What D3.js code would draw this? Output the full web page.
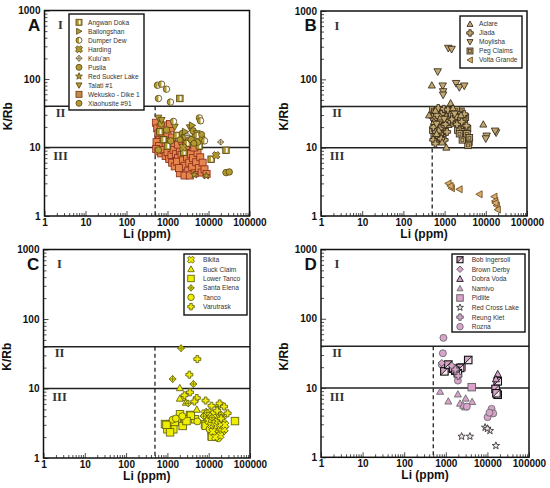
<!DOCTYPE html>
<html><head><meta charset="utf-8">
<script src="https://cdn.jsdelivr.net/npm/d3@7"></script>
<style>body{margin:0;background:#fff}svg{display:block}</style>
</head><body><svg id="c" width="550" height="488"></svg>
<script>
// ---------- tick labels ----------
const xTicks = [1, 10, 100, 1000, 10000, 100000];
const yTicks = [1, 10, 100, 1000];
const fieldLines = [40, 10];       // K/Rb boundaries between fields I/II/III
const liCutoff = 500;              // Li (ppm) dashed line
const fieldLabels = ["I", "II", "III"];

// ---------- Panel A ----------
const A_names = ["Angwan Doka","Bailongshan","Dumper Dew","Harding","Kulu'an","Pusila","Red Sucker Lake","Talati #1","Wekusko - Dike 1","Xiaohusite #91"];
const A_wekusko = [[520,23],[560,19],[600,16],[640,13],[700,11.5],[760,15],[820,18],[880,21],[950,13],[1000,16],[1100,12],[1200,19],[1300,14],[1450,11],[540,12],[620,10.5],[680,20],[900,10.8],[1150,22],
 [530,9.5],[600,8.8],[700,8.2],[800,9.2],[900,7.5],[1000,8.5],[1100,6.8],[1250,7.8],[1400,9.2],[1600,8.0],[1800,7.0],[2000,9.0],[2200,7.8],[1300,6.0],[1500,5.3],[1700,6.2],
 [2400,6.5],[2600,5.4],[2800,8.6],[3000,7.2],[3200,4.6],[3400,6.0],[3700,8.0],[4000,5.2],[4200,7.0],[4600,4.2],[5000,6.1],[5400,8.3],[5800,5.0],[6300,7.2],[6800,4.3],[7200,6.0],[8000,4.8],[9000,4.1],[2000,4.2],[2600,3.9],[3500,3.9],[1900,5.0],[1800,11],[2300,12.5],[2800,10.5],[3300,13],[4500,10]];
const A_angwan = [[2000,52],[26700,9.1],[11600,6.75],[650,17],[800,13],[1700,15],[3000,11.5],[4800,14],[6000,10.5],[1000,10.5],[2500,8.5]];
const A_xiaohusite = [[26700,4.3],[32000,4.4],[700,22],[950,18],[2300,16],[3800,13],[5500,12],[7000,13.5],[1200,12.5],[600,9.2],[4200,17.5]];
const A_talati = [[600,27],[720,25],[3500,19.5],[5200,16],[1500,20],[2600,14]];
const A_dumper = [[570,81],[714,84],[946,71],[603,52],[1180,46],[6000,27],[6400,24.5],[1400,24],[5200,15],[8000,12.5]];
const A_pusila = [[6800,15.5],[4400,11.5],[2000,13]];
const A_kuluan = [[19800,12],[3000,15]];
const A_harding = [[15300,7.7],[2400,10]];
const A_redsucker = [[8800,3.85],[4500,4.0]];
const A_bailongshan = [[4000,21],[2700,17]];

// ---------- Panel B ----------
const B_names = ["Aclare","Jiada","Moylisha","Peg Claims","Volta Grande"];
const B_aclare = [[490,82],[8700,22],[1400,45],[420,30],[1100,10.1],[600,35],[800,28],[1600,38],[2500,30],[550,24],[720,18],[1100,29],[640,16],[870,12]];
const B_jiada = [[510,28],[540,20],[580,34],[620,17],[700,38],[740,14],[780,25],[830,31],[880,20],[960,37],[1050,22],[1200,36],[1300,25],[530,13],[600,11.5],[1000,13],[1500,26],[2300,27],[3000,31],[2000,22],
 [560,26],[660,30],[760,19],[820,13.5],[1150,17],[1900,29],[2600,24],[3400,21]];
const B_moylisha = [[1230,285],[1480,275],[680,129],[900,80],[920,66],[920,59],[1900,87],[2280,76],[3000,80],[10500,14.8],[17800,16.5],[10000,13.5],[16800,17.5],[640,22],[980,26],[1750,31]];
const B_peg = [[520,36],[560,30],[600,24],[650,33],[700,27],[750,21],[800,36],[850,17],[900,30],[950,24],[1000,19],[1100,33],[1150,27],[1250,22],[1400,30],[1600,35],[1800,28],[2000,32],[2200,25],[2400,21],[2600,30],[2800,17],[3000,23],[3300,14],[3600,19],[3900,12],[3700,10.8],[3200,28],[2500,34],[1700,23],[2100,18],[2700,13],[560,15],[680,12.5],[900,14],
 [520,18],[580,22],[620,28],[720,33],[780,15],[860,26],[1000,31],[1080,25],[1300,33],[1500,30],[2300,16],[2900,26],[3500,16],[4000,14],[1900,36],[2200,30]];
const B_volta = [[1230,3.0],[1480,2.55],[1380,2.75],[2280,2.46],[6960,2.08],[16000,1.92],[16700,1.66],[18300,1.42],[19300,1.24],[17000,1.55]];

// ---------- Panel C ----------
const C_names = ["Bikita","Buck Claim","Lower Tanco","Santa Elena","Tanco","Varutrask"];
const C_bikita = [[8000,4.4],[9000,3.9],[9500,4.6],[10000,3.4],[11000,4.1],[11500,3.0],[12000,3.6],[13000,2.7],[13500,4.3],[14000,3.2],[15000,2.5],[15500,3.8],[16000,2.9],[17000,3.4],[17500,2.3],[18000,4.0],[19000,2.7],[20000,3.1],[21000,2.4],[22000,3.6],[24000,2.6],[25000,3.0],[19000,2.1],[14500,2.0],[12500,2.4]];
const C_buck = [[2000,10.2],[2360,7.4],[2000,7.2],[2800,6.3],[5150,5.0],[14000,3.2],[9000,4.5]];
const C_lowertanco = [[2020,4.25],[3520,4.16],[2670,3.6],[1680,3.52],[1155,3.05],[1390,2.59],[875,3.08],[2340,2.89],[4660,3.6],[8130,3.05],[11800,2.53],[11800,2.07],[43300,3.4],[1000,2.59],[1160,2.34],[3700,4.07],[8500,2.9],[12000,2.03],[1500,3.3],[2900,3.4],[950,3.0]];
const C_santaelena = [[2140,38],[1340,13.7],[4250,11.6],[3200,6.1],[9000,4.5],[12000,3.8],[17000,5.5],[20000,4.2],[7500,4.0]];
const C_tanco = [[1340,3.56],[5300,3.36],[17000,1.92],[1600,3.7],[2300,4.0],[10500,2.6],[15000,2.2],[9000,3.7]];
const C_varutrask = [[5300,26.5],[3400,15.8],[3530,8.8],[5150,7.3],[8400,6.7],[11700,5.65],[18400,6.1],[23500,5.5],[28700,4.4],[2600,8.0],[4500,6.5],[16000,4.8],[20000,3.7]];

// ---------- Panel D ----------
const D_names = ["Bob Ingersoll","Brown Derby","Dobra Voda","Namivo","Pidlite","Red Cross Lake","Reung Kiet","Rozna"];
const D_bob = [[925,17.4],[1150,21.8],[3460,25.4],[17700,12.5],[15700,9.7],[17700,8.0],[2210,19.5],[1950,16.4],[1500,19],[1700,17.8],[16500,8.4]];
const D_brown = [[1400,21],[800,23]];
const D_dobra = [[17700,16.0],[16000,13.5],[1800,17]];
const D_namivo = [[730,8.9],[1150,6.45],[1950,8.15],[2200,6.0],[2900,5.3],[3000,7.1],[4300,6.35],[2600,5.6]];
const D_pidlite = [[4200,10.3],[1300,19.5],[2400,20]];
const D_redcross = [[2400,2.0],[3800,2.0],[8800,2.7],[11500,2.42],[16000,1.47],[10000,2.6]];
const D_reung = [[1700,18.5],[2000,15]];
const D_rozna = [[877,53],[850,31.8],[800,21.8],[960,20.5],[1950,12.8],[10100,3.8],[12600,5.0],[13800,4.3],[3200,5.4],[11200,4.4]];

// ---------- styles ----------
const OL = "#B39A30", OLs = "#5A4A14";
const OR = "#E4864E", ORs = "#8E2E1A";
const TN = "#C2A870", TNs = "#33281a";
const YE = "#F0EE00", YEs = "#5E5E10";
const PK = "#D9A3CC", PKs = "#3a3a3a";

const panels = [
 {letter:"A", frame:[44.5,249.5,10.5,216], legend:{x:69,y:14,w:75,h:96,mx:79,tx:88,row0:22.3,dy:9},
  draw:[
   {name:A_names[8], data:A_wekusko, t:"sq", s:7, f:OR, st:ORs},
   {name:A_names[0], data:A_angwan, t:"sqSplit", s:6.5, f:OL, st:OLs},
   {name:A_names[9], data:A_xiaohusite, t:"circ", s:6.5, f:OL, st:OLs},
   {name:A_names[7], data:A_talati, t:"triD", s:7, f:OL, st:OLs},
   {name:A_names[2], data:A_dumper, t:"circHalf", s:6.5, f:OL, st:OLs},
   {name:A_names[5], data:A_pusila, t:"circ", s:6, f:OL, st:OLs},
   {name:A_names[4], data:A_kuluan, t:"diamondPlus", s:6, f:"#fff", st:OLs},
   {name:A_names[3], data:A_harding, t:"x", s:7, f:OL, st:OLs},
   {name:A_names[6], data:A_redsucker, t:"star", s:7, f:OL, st:OLs},
   {name:A_names[1], data:A_bailongshan, t:"triR", s:7, f:OL, st:OLs}
  ],
  legendOrder:[
   {name:A_names[0], t:"sqSplit", s:6, f:OL, st:OLs},
   {name:A_names[1], t:"triR", s:6, f:OL, st:OLs},
   {name:A_names[2], t:"circHalf", s:6, f:OL, st:OLs},
   {name:A_names[3], t:"x", s:6.5, f:OL, st:OLs},
   {name:A_names[4], t:"diamondPlus", s:6, f:"#fff", st:OLs},
   {name:A_names[5], t:"circ", s:6, f:OL, st:OLs},
   {name:A_names[6], t:"star", s:6.5, f:OL, st:OLs},
   {name:A_names[7], t:"triD", s:6, f:OL, st:OLs},
   {name:A_names[8], t:"sq", s:6, f:"#C48A4A", st:"#6A3A14"},
   {name:A_names[9], t:"circ", s:6, f:OL, st:OLs}
  ]},
 {letter:"B", frame:[321,527,11,216], legend:{x:460,y:16,w:62,h:52,mx:470,tx:479,row0:24,dy:9},
  draw:[
   {name:B_names[3], data:B_peg, t:"sqInner", s:6.5, f:TN, st:TNs},
   {name:B_names[1], data:B_jiada, t:"plus", s:7, f:TN, st:TNs},
   {name:B_names[0], data:B_aclare, t:"triU", s:7, f:TN, st:TNs},
   {name:B_names[2], data:B_moylisha, t:"triD", s:7.5, f:TN, st:TNs},
   {name:B_names[4], data:B_volta, t:"triL", s:7, f:"#D8AC6A", st:"#6A4A20"}
  ],
  legendOrder:[
   {name:B_names[0], t:"triU", s:6, f:TN, st:TNs},
   {name:B_names[1], t:"plus", s:6.5, f:TN, st:TNs},
   {name:B_names[2], t:"triD", s:6, f:TN, st:TNs},
   {name:B_names[3], t:"sqInner", s:6, f:TN, st:TNs},
   {name:B_names[4], t:"triL", s:6, f:"#D8AC6A", st:"#6A4A20"}
  ]},
 {letter:"C", frame:[43.5,250,249.5,458], legend:{x:184,y:254,w:63,h:61,mx:191,tx:203,row0:259.7,dy:9.4},
  draw:[
   {name:C_names[2], data:C_lowertanco, t:"sq", s:7.5, f:YE, st:YEs},
   {name:C_names[4], data:C_tanco, t:"circ", s:7, f:YE, st:YEs},
   {name:C_names[1], data:C_buck, t:"triU", s:7, f:YE, st:YEs},
   {name:C_names[0], data:C_bikita, t:"x", s:7, f:YE, st:YEs},
   {name:C_names[3], data:C_santaelena, t:"diamondPlus", s:7, f:YE, st:YEs},
   {name:C_names[5], data:C_varutrask, t:"plus", s:7, f:YE, st:YEs}
  ],
  legendOrder:[
   {name:C_names[0], t:"x", s:6.5, f:YE, st:YEs},
   {name:C_names[1], t:"triU", s:6.5, f:YE, st:YEs},
   {name:C_names[2], t:"sq", s:6.5, f:YE, st:YEs},
   {name:C_names[3], t:"diamondPlus", s:6.5, f:YE, st:YEs},
   {name:C_names[4], t:"circ", s:6.5, f:YE, st:YEs},
   {name:C_names[5], t:"plus", s:6.5, f:YE, st:YEs}
  ]},
 {letter:"D", frame:[321,529,249.5,457.3], legend:{x:452,y:254,w:73,h:78,mx:460,tx:471.7,row0:259.7,dy:9.57},
  draw:[
   {name:D_names[3], data:D_namivo, t:"triU", s:7, f:PK, st:"#666"},
   {name:D_names[7], data:D_rozna, t:"circ", s:7, f:PK, st:"#666"},
   {name:D_names[4], data:D_pidlite, t:"sq", s:7.5, f:PK, st:"#555"},
   {name:D_names[0], data:D_bob, t:"sqDiag", s:7.5, f:PK, st:"#111"},
   {name:D_names[2], data:D_dobra, t:"triU", s:7, f:PK, st:"#111"},
   {name:D_names[1], data:D_brown, t:"diamond", s:7, f:PK, st:"#555"},
   {name:D_names[6], data:D_reung, t:"plus", s:7, f:PK, st:"#555"},
   {name:D_names[5], data:D_redcross, t:"star", s:7, f:"#f4e4ef", st:"#333"}
  ],
  legendOrder:[
   {name:D_names[0], t:"sqDiag", s:6, f:PK, st:"#111"},
   {name:D_names[1], t:"diamond", s:6.5, f:PK, st:"#555"},
   {name:D_names[2], t:"triU", s:6.5, f:PK, st:"#111"},
   {name:D_names[3], t:"triU", s:6, f:PK, st:"#666"},
   {name:D_names[4], t:"sq", s:6.5, f:PK, st:"#555"},
   {name:D_names[5], t:"star", s:6.5, f:"#f4e4ef", st:"#333"},
   {name:D_names[6], t:"plus", s:6.5, f:PK, st:"#555"},
   {name:D_names[7], t:"circ", s:6.5, f:PK, st:"#666"}
  ]}
];

function crossPath(s){
  const h=s/2, t=s*0.19;
  return `M${-t},${-h}H${t}V${-t}H${h}V${t}H${t}V${h}H${-t}V${t}H${-h}V${-t}H${-t}Z`;
}
function starPath(s){
  const R=s/2*1.1, r=R*0.42; let p="";
  for(let i=0;i<10;i++){
    const a=-Math.PI/2+i*Math.PI/5, rr=i%2?r:R;
    p+=(i?"L":"M")+(rr*Math.cos(a)).toFixed(2)+","+(rr*Math.sin(a)).toFixed(2);
  }
  return p+"Z";
}
function marker(g, t, s, f, st){
  const h=s/2, sw=0.85;
  const base = sel => sel.attr("fill",f).attr("stroke",st).attr("stroke-width",sw);
  switch(t){
    case "sq": base(g.append("rect").attr("x",-h).attr("y",-h).attr("width",s).attr("height",s)); break;
    case "sqSplit":
      base(g.append("rect").attr("x",-h).attr("y",-h).attr("width",s).attr("height",s));
      g.append("rect").attr("x",-h*0.05).attr("y",-h+1).attr("width",h*0.55).attr("height",s-2).attr("fill","#fff"); break;
    case "sqInner":
      base(g.append("rect").attr("x",-h).attr("y",-h).attr("width",s).attr("height",s));
      g.append("rect").attr("x",-h*0.45).attr("y",-h*0.45).attr("width",h*0.9).attr("height",h*0.9).attr("fill","none").attr("stroke",st).attr("stroke-width",0.6); break;
    case "sqDiag":
      g.append("rect").attr("x",-h).attr("y",-h).attr("width",s).attr("height",s).attr("fill","#f3e3ee");
      g.append("path").attr("d",`M${-h},${-h}L${h},${-h}L${-h},${h}Z`).attr("fill",f);
      g.append("rect").attr("x",-h).attr("y",-h).attr("width",s).attr("height",s).attr("fill","none").attr("stroke",st).attr("stroke-width",1.1);
      g.append("line").attr("x1",-h).attr("y1",h).attr("x2",h).attr("y2",-h).attr("stroke",st).attr("stroke-width",0.9); break;
    case "circ": base(g.append("circle").attr("r",h)); break;
    case "circHalf":
      g.append("circle").attr("r",h).attr("fill","#fff");
      g.append("path").attr("d",`M0,${-h}A${h},${h} 0 0 0 0,${h}Z`).attr("fill",f);
      g.append("circle").attr("r",h).attr("fill","none").attr("stroke",st).attr("stroke-width",sw); break;
    case "triU": base(g.append("path").attr("d",`M0,${-h}L${h},${h*0.8}L${-h},${h*0.8}Z`)); break;
    case "triD": base(g.append("path").attr("d",`M0,${h}L${h},${-h*0.8}L${-h},${-h*0.8}Z`)); break;
    case "triR": base(g.append("path").attr("d",`M${h},0L${-h*0.8},${h}L${-h*0.8},${-h}Z`)); break;
    case "triL": base(g.append("path").attr("d",`M${-h},0L${h*0.8},${h}L${h*0.8},${-h}Z`)); break;
    case "diamond": base(g.append("path").attr("d",`M0,${-h}L${h},0L0,${h}L${-h},0Z`)); break;
    case "diamondPlus":
      base(g.append("path").attr("d",`M0,${-h}L${h},0L0,${h}L${-h},0Z`));
      g.append("path").attr("d",`M0,${-h}V${h}M${-h},0H${h}`).attr("stroke",st).attr("stroke-width",0.7); break;
    case "plus": base(g.append("path").attr("d",crossPath(s))); break;
    case "x": base(g.append("path").attr("d",crossPath(s*1.1)).attr("transform","rotate(45)")); break;
    case "star": base(g.append("path").attr("d",starPath(s))); break;
  }
}

const svg = d3.select("#c");
const FONT = "'Liberation Sans', Arial, Helvetica, sans-serif";
const minorX = [], minorY = [];
for (let e=0;e<5;e++) for (let m=2;m<10;m++) minorX.push(m*Math.pow(10,e));
for (let e=0;e<3;e++) for (let m=2;m<10;m++) minorY.push(m*Math.pow(10,e));

panels.forEach(p => {
  const [x0,x1,y0,y1] = p.frame;
  const x = d3.scaleLog().domain([1,100000]).range([x0,x1]);
  const y = d3.scaleLog().domain([1,1000]).range([y1,y0]);
  const g = svg.append("g");

  // axes
  g.append("g").attr("transform",`translate(0,${y1})`)
    .call(d3.axisBottom(x).tickValues(xTicks).tickFormat(d3.format("d")).tickSize(-5).tickPadding(3));
  g.append("g").attr("transform",`translate(0,${y1})`)
    .call(d3.axisBottom(x).tickValues(minorX).tickFormat("").tickSize(-3));
  g.append("g").attr("transform",`translate(${x0},0)`)
    .call(d3.axisLeft(y).tickValues(yTicks).tickFormat(d3.format("d")).tickSize(-5).tickPadding(4));
  g.append("g").attr("transform",`translate(${x0},0)`)
    .call(d3.axisLeft(y).tickValues(minorY).tickFormat("").tickSize(-3));
  g.selectAll(".domain").remove();
  g.selectAll(".tick line").attr("stroke","#222").attr("stroke-width",0.8);
  g.selectAll(".tick text").attr("font-family",FONT).attr("font-weight","bold").attr("font-size",10).attr("fill","#111");

  // field lines
  fieldLines.forEach(v => g.append("line").attr("x1",x0).attr("x2",x1).attr("y1",y(v)).attr("y2",y(v))
    .attr("stroke","#222").attr("stroke-width",1.5));
  g.append("line").attr("x1",x(liCutoff)).attr("x2",x(liCutoff)).attr("y1",y(fieldLines[0])).attr("y2",y1)
    .attr("stroke","#222").attr("stroke-width",1.3).attr("stroke-dasharray","4,3");

  // roman numerals
  const rx = x0+16;
  const rn = g.append("g").attr("font-family","'Liberation Serif','Times New Roman',serif").attr("font-weight","bold")
    .attr("font-size",12.5).attr("fill","#333").attr("text-anchor","middle");
  rn.append("text").attr("x",rx).attr("y",y0+18.5).text(fieldLabels[0]);
  rn.append("text").attr("x",rx).attr("y",y(fieldLines[0])+10.5).text(fieldLabels[1]);
  rn.append("text").attr("x",rx).attr("y",y(fieldLines[1])+12.5).text(fieldLabels[2]);

  // data
  const pts = g.append("g");
  p.draw.forEach(sr => {
    sr.data.forEach(d => {
      const mg = pts.append("g").attr("transform",`translate(${x(d[0])},${y(d[1])})`);
      marker(mg, sr.t, sr.s, sr.f, sr.st);
    });
  });

  // frame
  g.append("rect").attr("x",x0).attr("y",y0).attr("width",x1-x0).attr("height",y1-y0)
    .attr("fill","none").attr("stroke","#111").attr("stroke-width",1.5);

  // legend
  const L = p.legend;
  g.append("rect").attr("x",L.x).attr("y",L.y).attr("width",L.w).attr("height",L.h)
    .attr("fill","#fff").attr("stroke","#111").attr("stroke-width",1.4);
  p.legendOrder.forEach((it,i) => {
    const cy = L.row0 + i*L.dy;
    const mg = g.append("g").attr("transform",`translate(${L.mx},${cy})`);
    marker(mg, it.t, it.s, it.f, it.st);
    g.append("text").attr("x",L.tx).attr("y",cy+2.4).attr("font-family",FONT).attr("font-size",6.6)
      .attr("fill","#333").text(it.name);
  });

  // titles
  g.append("text").attr("x",(x0+x1)/2).attr("y",y1+22).attr("text-anchor","middle")
    .attr("font-family",FONT).attr("font-weight","bold").attr("font-size",12).attr("fill","#111").text("Li (ppm)");
  g.append("text").attr("transform",`translate(${x0-33},${(y0+y1)/2+3}) rotate(-90)`).attr("text-anchor","middle")
    .attr("font-family",FONT).attr("font-weight","bold").attr("font-size",12).attr("fill","#111").text("K/Rb");
  g.append("text").attr("x",x0-16.5).attr("y",y0+20).attr("font-family",FONT).attr("font-weight","bold")
    .attr("font-size",17).attr("fill","#111").text(p.letter);
});
</script>
</body></html>
